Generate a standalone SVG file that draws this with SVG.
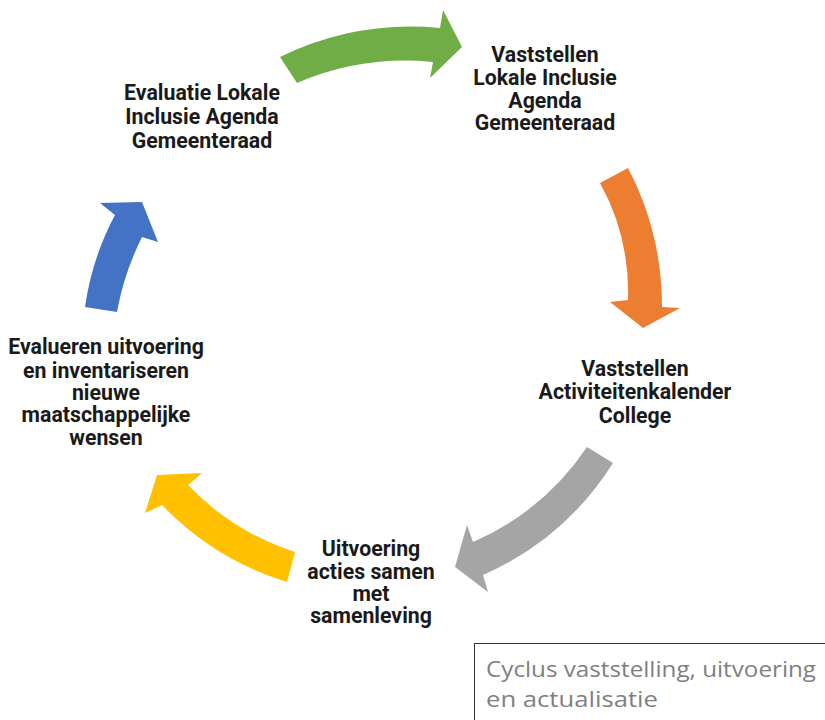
<svg xmlns="http://www.w3.org/2000/svg" width="825" height="720" viewBox="0 0 825 720">
<style>
.lbl{font-family:Roboto,"Liberation Sans",sans-serif;font-weight:700;font-size:21.3px;fill:#1a1a1a;text-anchor:middle}
.cap{font-family:"Open Sans","Liberation Sans",sans-serif;font-size:21px;fill:#7f7f7f}
</style>
<rect width="825" height="720" fill="#ffffff"/>
<g id="connectors">
<path id="arrow-green" fill="#70AD47" d="M280,57 Q356,20 440,28 L443,10 L462,47 L430,78 L433,62 Q362,55 297,83 Z"/>
<path id="arrow-orange" fill="#ED7D31" d="M600,183 Q630,237 628,300 L610,302 L643,328 L680,308 L662,307 Q662,233 628,168 Z"/>
<path id="arrow-gray" fill="#A5A5A5" d="M587,447 Q544,511 473,542 L467,525 L455,567 L488,592 L483,575 Q565,539 613,463 Z"/>
<path id="arrow-yellow" fill="#FFC000" d="M295,552 Q233,532 188,485 L202,473 L157,475 L145,513 L162,505 Q215,560 287,582 Z"/>
<path id="arrow-blue" fill="#4472C4" d="M85,307 Q92,258 115,215 L100,203 L142,202 L158,242 L142,237 Q124,273 117,312 Z"/>
</g>
<g id="node-vaststellen-agenda">
<text class="lbl" x="545" y="62">Vaststellen</text>
<text class="lbl" x="545" y="85">Lokale Inclusie</text>
<text class="lbl" x="545" y="107.5">Agenda</text>
<text class="lbl" x="545" y="130">Gemeenteraad</text>
</g>
<g id="node-activiteitenkalender">
<text class="lbl" x="635" y="376">Vaststellen</text>
<text class="lbl" x="635" y="399">Activiteitenkalender</text>
<text class="lbl" x="635" y="422.5">College</text>
</g>
<g id="node-uitvoering">
<text class="lbl" x="371" y="556">Uitvoering</text>
<text class="lbl" x="371" y="579">acties samen</text>
<text class="lbl" x="371" y="601">met</text>
<text class="lbl" x="371" y="623">samenleving</text>
</g>
<g id="node-evalueren">
<text class="lbl" x="106" y="354">Evalueren uitvoering</text>
<text class="lbl" x="106" y="377.5">en inventariseren</text>
<text class="lbl" x="106" y="400">nieuwe</text>
<text class="lbl" x="106" y="422">maatschappelijke</text>
<text class="lbl" x="106" y="444.5">wensen</text>
</g>
<g id="node-evaluatie-agenda">
<text class="lbl" x="202" y="100">Evaluatie Lokale</text>
<text class="lbl" x="202" y="124">Inclusie Agenda</text>
<text class="lbl" x="202" y="147.5">Gemeenteraad</text>
</g>
<g id="caption">
<rect x="474.5" y="643.5" width="360" height="100" fill="#ffffff" stroke="#333333" stroke-width="1"/>
<text class="cap" x="486" y="677" textLength="330" lengthAdjust="spacingAndGlyphs">Cyclus vaststelling, uitvoering</text>
<text class="cap" x="486" y="707" textLength="172" lengthAdjust="spacingAndGlyphs">en actualisatie</text>
</g>
</svg>
